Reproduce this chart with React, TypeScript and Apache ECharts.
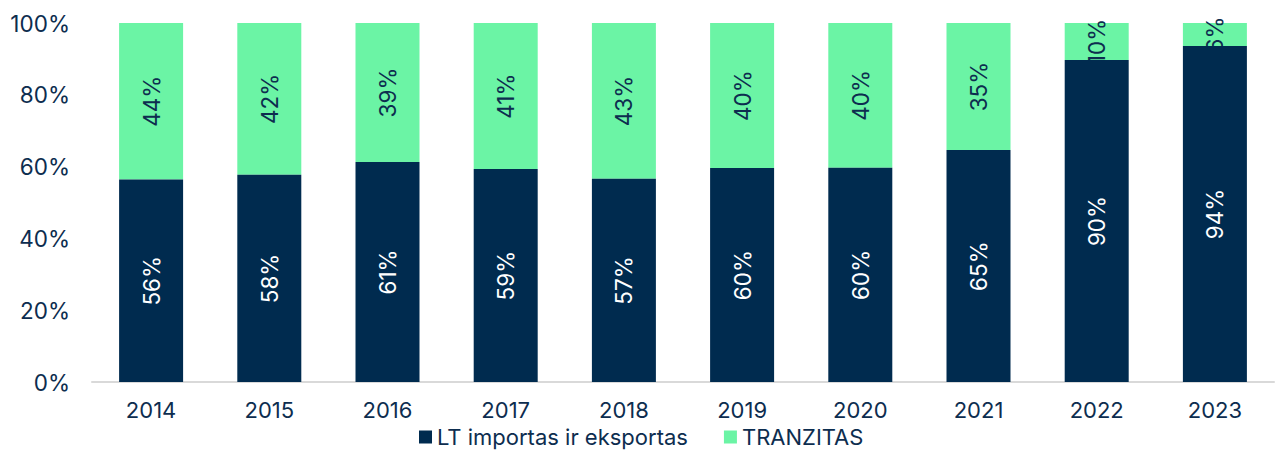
import React, { useEffect, useRef } from "react";
import * as echarts from "echarts";

const years = ["2014", "2015", "2016", "2017", "2018", "2019", "2020", "2021", "2022", "2023"];
const ltImportExport = [56.4, 57.7, 61.3, 59.3, 56.6, 59.6, 59.7, 64.6, 89.7, 93.6];
const tranzitas = [43.6, 42.3, 38.7, 40.7, 43.4, 40.4, 40.3, 35.4, 10.3, 6.4];
const yTicks = [0, 20, 40, 60, 80, 100];

const navy = "#002b4f";
const green = "#6bf4a5";
const textColor = "#0d2d4f";
const font = "Inter, 'Noto Sans', sans-serif";
const fs = 22.5;

export default function App() {
  const ref = useRef<HTMLDivElement>(null);
  useEffect(() => {
    if (!ref.current) return;
    const chart = echarts.init(ref.current, undefined, { renderer: "svg" });
    chart.setOption({
      animation: false,
      textStyle: { fontFamily: font },
      grid: { left: 92, right: 3, top: 23, bottom: 68 },
      legend: {
        top: 426,
        left: 414,
        icon: "rect",
        itemWidth: 13,
        itemHeight: 13,
        itemGap: 36,
        padding: [0, 5, 0, 5],
        textStyle: { color: textColor, fontSize: 22, fontFamily: font, lineHeight: 22 },
        data: ["LT importas ir eksportas", "TRANZITAS"],
      },
      xAxis: {
        type: "category",
        data: years,
        axisLine: { lineStyle: { color: "#d9d9d9", width: 2 } },
        axisTick: { show: false },
        axisLabel: { color: textColor, fontSize: 22, margin: 17, lineHeight: 22 },
      },
      yAxis: {
        type: "value",
        min: yTicks[0],
        max: yTicks[yTicks.length - 1],
        interval: 20,
        axisLine: { show: false },
        axisTick: { show: false },
        splitLine: { show: false },
        axisLabel: { color: textColor, fontSize: fs, margin: 22, formatter: (v: number) => v + "%" },
      },
      series: [
        {
          name: "LT importas ir eksportas",
          type: "bar",
          stack: "total",
          barWidth: 64,
          z: 3,
          data: ltImportExport,
          itemStyle: { color: navy },
          label: {
            show: true,
            position: "inside",
            rotate: 90,
            color: "#ffffff",
            fontSize: fs,
            fontFamily: font,
            formatter: (p: any) => Math.round(p.value) + "%",
          },
        },
        {
          name: "TRANZITAS",
          type: "bar",
          stack: "total",
          barWidth: 64,
          z: 2,
          data: tranzitas,
          itemStyle: { color: green },
          label: {
            show: true,
            position: "inside",
            rotate: 90,
            color: textColor,
            fontSize: fs,
            fontFamily: font,
            formatter: (p: any) => Math.round(p.value) + "%",
          },
        },
      ],
    });
    return () => chart.dispose();
  }, []);
  return (
    <div
      ref={ref}
      style={{ position: "absolute", left: 0, top: 0, width: 1277, height: 450 }}
    />
  );
}
